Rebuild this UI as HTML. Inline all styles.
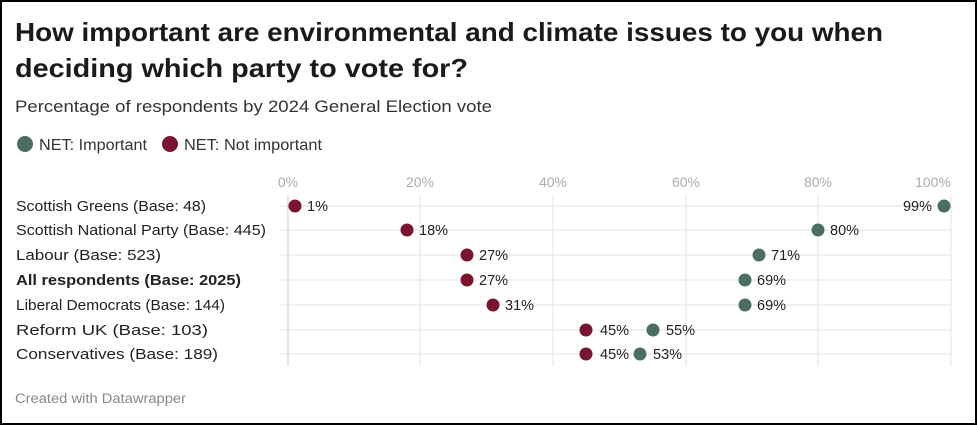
<!DOCTYPE html>
<html><head><meta charset="utf-8"><style>
html,body{margin:0;padding:0;background:#fff}
body{width:977px;height:425px;overflow:hidden}
.wrap{position:absolute;left:0;top:0;width:973px;height:421px;border:2px solid #000;}
</style></head><body>
<div class="wrap"></div>
<svg width="977" height="425" style="position:absolute;left:0;top:0" font-family="Liberation Sans, sans-serif">
<text x="15" y="41" font-size="26" font-weight="bold" fill="#1a1a1a" textLength="868" lengthAdjust="spacingAndGlyphs">How important are environmental and climate issues to you when</text>
<text x="15" y="77" font-size="26" font-weight="bold" fill="#1a1a1a" textLength="453" lengthAdjust="spacingAndGlyphs">deciding which party to vote for?</text>
<text x="15" y="112" font-size="17" fill="#333" textLength="477" lengthAdjust="spacingAndGlyphs">Percentage of respondents by 2024 General Election vote</text>
<circle cx="25" cy="144" r="8" fill="#4b6e63"/><text x="39" y="150" font-size="15.5" fill="#333" textLength="108" lengthAdjust="spacingAndGlyphs">NET: Important</text>
<circle cx="170" cy="144" r="8" fill="#7a1530"/><text x="184" y="150" font-size="15.5" fill="#333" textLength="138" lengthAdjust="spacingAndGlyphs">NET: Not important</text>
<g font-size="14" fill="#aaa" text-anchor="middle">
<text x="288" y="187">0%</text><text x="420" y="187">20%</text><text x="553" y="187">40%</text><text x="686" y="187">60%</text><text x="818" y="187">80%</text><text x="933" y="187">100%</text>
</g>
<g stroke="#e3e3e3" stroke-width="1">
<line x1="420" y1="195" x2="420" y2="366"/><line x1="553" y1="195" x2="553" y2="366"/><line x1="686" y1="195" x2="686" y2="366"/><line x1="818" y1="195" x2="818" y2="366"/><line x1="951" y1="195" x2="951" y2="366"/>
<line x1="280" y1="206" x2="951" y2="206"/><line x1="280" y1="230" x2="951" y2="230"/><line x1="280" y1="255" x2="951" y2="255"/><line x1="280" y1="280" x2="951" y2="280"/><line x1="280" y1="305" x2="951" y2="305"/><line x1="280" y1="330" x2="951" y2="330"/><line x1="280" y1="354" x2="951" y2="354"/>
</g>
<line x1="288" y1="195" x2="288" y2="366" stroke="#ccc"/>
<g font-size="14.5" fill="#222" lengthAdjust="spacingAndGlyphs">
<text x="16" y="211" textLength="190" lengthAdjust="spacingAndGlyphs">Scottish Greens (Base: 48)</text>
<text x="16" y="235" textLength="250" lengthAdjust="spacingAndGlyphs">Scottish National Party (Base: 445)</text>
<text x="16" y="260" textLength="145" lengthAdjust="spacingAndGlyphs">Labour (Base: 523)</text>
<text x="16" y="285" font-weight="bold" textLength="225" lengthAdjust="spacingAndGlyphs">All respondents (Base: 2025)</text>
<text x="16" y="310" textLength="209" lengthAdjust="spacingAndGlyphs">Liberal Democrats (Base: 144)</text>
<text x="16" y="335" textLength="192" lengthAdjust="spacingAndGlyphs">Reform UK (Base: 103)</text>
<text x="16" y="359" textLength="202" lengthAdjust="spacingAndGlyphs">Conservatives (Base: 189)</text>
</g>
<g font-size="14.5" fill="#222">
<circle cx="295" cy="206" r="6.5" fill="#7a1530"/><text x="307" y="211">1%</text>
<circle cx="944" cy="206" r="6.5" fill="#4b6e63"/><text x="932" y="211" text-anchor="end">99%</text>
<circle cx="407" cy="230" r="6.5" fill="#7a1530"/><text x="419" y="235">18%</text>
<circle cx="818" cy="230" r="6.5" fill="#4b6e63"/><text x="830" y="235">80%</text>
<circle cx="467" cy="255" r="6.5" fill="#7a1530"/><text x="479" y="260">27%</text>
<circle cx="759" cy="255" r="6.5" fill="#4b6e63"/><text x="771" y="260">71%</text>
<circle cx="467" cy="280" r="6.5" fill="#7a1530"/><text x="479" y="285">27%</text>
<circle cx="745" cy="280" r="6.5" fill="#4b6e63"/><text x="757" y="285">69%</text>
<circle cx="493" cy="305" r="6.5" fill="#7a1530"/><text x="505" y="310">31%</text>
<circle cx="745" cy="305" r="6.5" fill="#4b6e63"/><text x="757" y="310">69%</text>
<circle cx="586" cy="330" r="6.5" fill="#7a1530"/><text x="600" y="335">45%</text>
<circle cx="653" cy="330" r="6.5" fill="#4b6e63"/><text x="666" y="335">55%</text>
<circle cx="586" cy="354" r="6.5" fill="#7a1530"/><text x="600" y="359">45%</text>
<circle cx="640" cy="354" r="6.5" fill="#4b6e63"/><text x="653" y="359">53%</text>
</g>
<text x="15" y="403" font-size="13.5" fill="#888" textLength="171" lengthAdjust="spacingAndGlyphs">Created with Datawrapper</text>
</svg>
</body></html>
